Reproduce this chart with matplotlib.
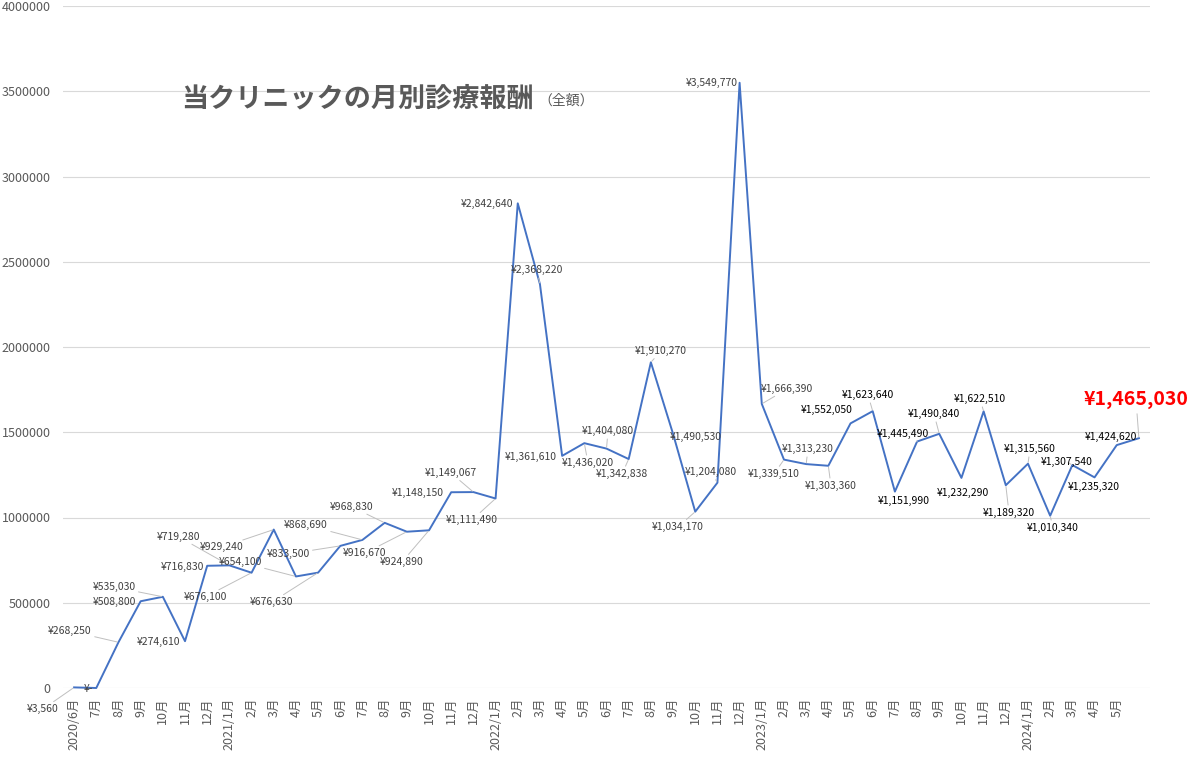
import matplotlib
matplotlib.use("Agg")
import matplotlib.pyplot as plt

plt.rcParams['font.family'] = ['Noto Sans CJK JP', 'DejaVu Sans']

# 月別診療報酬 (2020/6 - 2024/6)
months = ["2020/6月", "7月", "8月", "9月", "10月", "11月", "12月",
          "2021/1月", "2月", "3月", "4月", "5月", "6月", "7月", "8月", "9月", "10月", "11月", "12月",
          "2022/1月", "2月", "3月", "4月", "5月", "6月", "7月", "8月", "9月", "10月", "11月", "12月",
          "2023/1月", "2月", "3月", "4月", "5月", "6月", "7月", "8月", "9月", "10月", "11月", "12月",
          "2024/1月", "2月", "3月", "4月", "5月", ""]
revenue = [3560, 0, 268250, 508800, 535030, 274610, 716830,
           719280, 676100, 929240, 654100, 676630, 833500, 868690, 968830, 916670, 924890, 1148150, 1149067,
           1111490, 2842640, 2368220, 1361610, 1436020, 1404080, 1342838, 1910270, 1490530, 1034170, 1204080, 3549770,
           1666390, 1339510, 1313230, 1303360, 1552050, 1623640, 1151990, 1445490, 1490840, 1232290, 1622510, 1189320,
           1315560, 1010340, 1307540, 1235320, 1424620, 1465030]
y_ticks = [0, 500000, 1000000, 1500000, 2000000, 2500000, 3000000, 3500000, 4000000]

# label centres in picture pixels (x, y from top), and whether a leader line is drawn
label_pos = [(43, 709), (88, 689), (70, 631), (114, 602), (114, 587), (159, 642), (182, 567),
             (179, 537), (205, 597), (222, 547), (240, 562), (272, 602), (288, 554), (306, 525),
             (352, 507), (365, 553), (402, 562), (418, 493), (451, 473), (472, 520), (487, 204),
             (537, 270), (531, 457), (588, 463), (608, 431), (622, 474), (661, 351), (696, 437),
             (678, 527), (711, 472), (712, 83), (787, 389), (774, 474), (808, 449), (831, 486),
             (827, 410), (868, 395), (904, 501), (903, 434), (934, 414), (963, 493), (980, 399),
             (1009, 513), (1030, 449), (1053, 528), (1067, 462), (1094, 487), (1111, 437), (1136, 400)]
leader = [1, 0, 1, 0, 1, 0, 0,
          1, 1, 1, 1, 1, 1, 1, 1, 1, 1, 0, 1,
          1, 0, 1, 0, 1, 1, 1, 1, 0, 1, 1, 0,
          1, 1, 1, 1, 0, 1, 0, 1, 1, 0, 1, 1,
          1, 1, 1, 0, 0, 1]

W, H = 1200, 780
fig = plt.figure(figsize=(W / 100, H / 100), dpi=100)
ax = fig.add_axes([63 / W, 1 - 688 / H, (1150 - 63) / W, (688 - 6) / H])

x = list(range(len(revenue)))
ax.plot(x, revenue, color='#4472C4', linewidth=1.4, zorder=3, clip_on=False)

ax.set_xlim(-0.5, len(revenue) - 0.5)
ax.set_ylim(0, 4000000)
ax.set_yticks(y_ticks)
ax.set_yticklabels([str(v) for v in y_ticks])
ax.set_xticks(x)
ax.set_xticklabels(months, rotation=90, va='top', ha='center')
ax.tick_params(axis='y', length=0, pad=9, labelsize=9, labelcolor='#595959')
ax.tick_params(axis='x', length=0, pad=7, labelsize=9, labelcolor='#595959')
ax.grid(axis='y', color='#d9d9d9', linewidth=0.8)
ax.set_axisbelow(True)
for s in ax.spines.values():
    s.set_visible(False)

# data labels
for i, v in enumerate(revenue):
    txt = "¥-" if v == 0 else "¥{:,}".format(v)
    lx, ly = label_pos[i]
    last = i == len(revenue) - 1
    if last:
        color, size, weight = '#ff0000', 14, 'bold'
    elif i >= 35:
        color, size, weight = '#000000', 7.5, 'normal'
    else:
        color, size, weight = '#404040', 7.5, 'normal'
    arrow = None
    if leader[i]:
        arrow = dict(arrowstyle='-', color='#bfbfbf', lw=0.7, shrinkA=1, shrinkB=1)
    ax.annotate(txt, xy=(i, v), xycoords='data',
                xytext=(lx / W, 1 - ly / H), textcoords='figure fraction',
                ha='center', va='center', fontsize=size, color=color, fontweight=weight,
                bbox=dict(boxstyle='square,pad=0.15', fc='none', ec='none'),
                arrowprops=arrow, annotation_clip=False, zorder=4)

# title
fig.text(181 / W, 1 - 98 / H, "当クリニックの月別診療報酬", fontsize=19.5, fontweight='bold',
         color='#595959', ha='left', va='center')
fig.text(538 / W, 1 - 101 / H, "（全額）", fontsize=10, color='#595959', ha='left', va='center')

fig.savefig("out.png", dpi=100, facecolor='white')
